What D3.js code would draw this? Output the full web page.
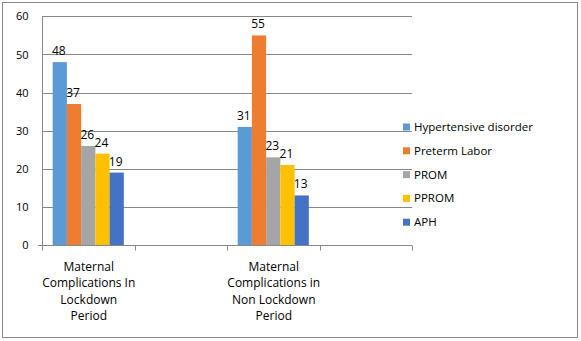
<!DOCTYPE html>
<html><head><meta charset="utf-8">
<script src="https://cdn.jsdelivr.net/npm/d3@7"></script>
<style>body{margin:0;background:#fff}svg{display:block}text{font-family:"Open Sans","Liberation Sans",sans-serif;fill:#000}</style>
</head><body><svg id="c" width="581" height="341"></svg>
<script>
const categories = ["Maternal Complications In Lockdown Period", "", "Maternal Complications in Non Lockdown Period", ""];
const seriesNames = ["Hypertensive disorder", "Preterm Labor", "PROM", "PPROM", "APH"];
const hypertensive = [48, null, 31, null];
const pretermLabor = [37, null, 55, null];
const prom = [26, null, 23, null];
const pprom = [24, null, 21, null];
const aph = [19, null, 13, null];
const colors = ["#5B9BD5", "#ED7D31", "#A5A5A5", "#FFC000", "#4472C4"];
const yTicks = [0, 10, 20, 30, 40, 50, 60];
const series = [hypertensive, pretermLabor, prom, pprom, aph];

(function () {
const svg = d3.select("#c");
svg.append("rect").attr("x", 2.5).attr("y", 2.5).attr("width", 575).attr("height", 335)
  .attr("fill", "#fff").attr("stroke", "#888");

const pL = 42, pR = 412, pT = 16.4, pB = 245;
const y = d3.scaleLinear().domain([0, 60]).range([pB, pT]);
const x = d3.scaleBand().domain(d3.range(categories.length)).range([pL, pR]).padding(0);
const x1 = d3.scaleBand().domain(d3.range(series.length)).range([0, x.bandwidth()]).paddingInner(0).paddingOuter(0.75);

// gridlines
svg.append("g").selectAll("line").data(yTicks.filter(d => d > 0)).join("line")
  .attr("x1", pL).attr("x2", pR).attr("y1", d => Math.round(y(d)) + 0.5).attr("y2", d => Math.round(y(d)) + 0.5)
  .attr("stroke", "#888").attr("stroke-width", 1);

// y axis
const yAxis = svg.append("g").attr("transform", `translate(${pL + 0.5},0)`)
  .call(d3.axisLeft(y).tickValues(yTicks).tickSize(0).tickPadding(14));
yAxis.select(".domain").attr("stroke", "#888").attr("d", `M0,${Math.round(pB)+0.5}V${pT}`);
yAxis.selectAll("text").attr("font-size", 11).style("font-family", '"Open Sans",sans-serif');

// bars
series.forEach((vals, si) => {
  const pts = vals.map((v, ci) => ({v, ci})).filter(d => d.v != null);
  svg.append("g").selectAll("rect").data(pts).join("rect")
    .attr("x", d => x(d.ci) + x1(si))
    .attr("y", d => y(d.v))
    .attr("width", x1.bandwidth())
    .attr("height", d => y(0) - y(d.v))
    .attr("fill", colors[si]);
  svg.append("g").selectAll("text").data(pts).join("text")
    .attr("x", d => x(d.ci) + x1(si) + x1.bandwidth() / 2 - 1)
    .attr("y", d => y(d.v) - 7)
    .attr("text-anchor", "middle").attr("font-size", 12)
    .text(d => d.v);
});

// x axis
const xb = Math.round(pB) + 0.5;
svg.append("line").attr("x1", pL - 4).attr("x2", pR).attr("y1", xb).attr("y2", xb).attr("stroke", "#888");
const bounds = d3.range(categories.length).map(i => x(i)).concat([x(categories.length - 1) + x.bandwidth()]);
svg.append("g").selectAll("line").data(bounds).join("line")
  .attr("x1", d => Math.round(d) + 0.5).attr("x2", d => Math.round(d) + 0.5)
  .attr("y1", xb).attr("y2", xb + 5).attr("stroke", "#888");

// category labels (wrapped)
categories.forEach((c, i) => {
  if (!c) return;
  const words = c.split(" ");
  const lines = [words[0], words[1] + " " + words[2], words.slice(3, words.length - 1).join(" "), words[words.length - 1]];
  const t = svg.append("text").attr("text-anchor", "middle").attr("font-size", 12);
  lines.forEach((ln, k) => t.append("tspan").attr("x", x(i) + x.bandwidth() / 2 + 0.5).attr("y", 271 + k * 16.3).text(ln));
});

// legend
const leg = svg.append("g");
seriesNames.forEach((n, i) => {
  const cy = 127 + i * 23.8;
  leg.append("rect").attr("x", 403).attr("y", cy - 3.5).attr("width", 7).attr("height", 7).attr("fill", colors[i]);
  leg.append("text").attr("x", 414).attr("y", cy + 4).attr("font-size", 11.5).text(n);
});
})();
</script></body></html>
